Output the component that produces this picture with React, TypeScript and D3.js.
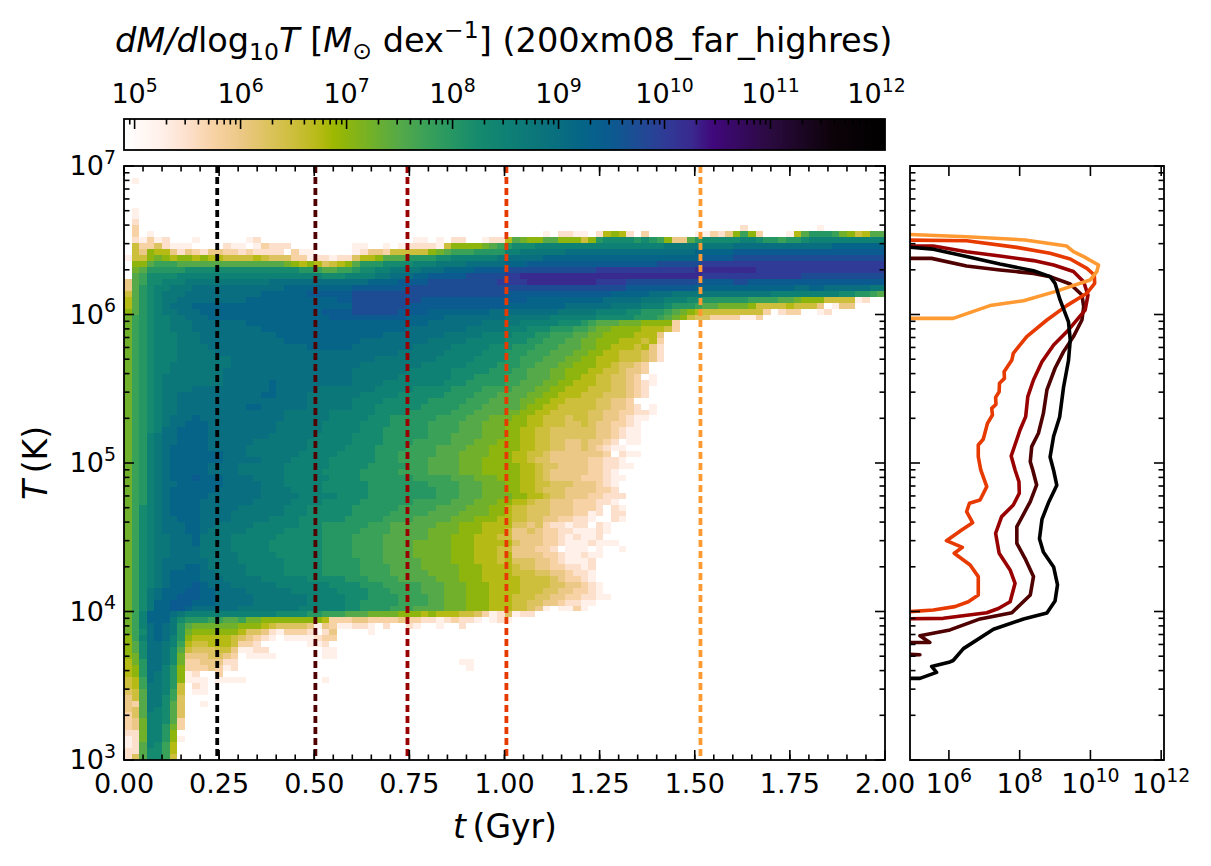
import React from "react";
import * as d3 from "d3";

const FONT = "'DejaVu Sans', sans-serif";

// Heat map: 100 rows (10^7 K at the top, 0.04 dex each) by 100 columns (0.02 Gyr each).
// One character per cell: '.' is empty, otherwise log10(dM/dlogT) = 5.25 + 0.25 * index in levelKey.
const levelKey = "0123456789abcdefghijk";
const cellRows: string[] = [
  "", "", ".0", "", "", "", "", ".0", ".0", ".1",
  ".2 ........ .......... .......... .......... .......... .......... .......... .......... .1........ .0",
  ".2.0...... .......... .......... .......... .......... .....0.110 0.16761.2. .....00213 7a72...069 bbba875699",
  ".10201...0 ......01.. .......... ........00 .0.11..011 6987799777 57bccccbcb a7339bcccc cddcbbabbc dddddddddd",
  ".52241000. ...100.021 11........ 00..0.0111 105777789a bcccdddddd dddddddddd deeeeeeeee ffffffffff fffggggggg",
  ".537663132 1332212111 1.200..... 0133255555 789aaabbbb ddeeeeeeff ffffffffff fffffggggg hhhhhhhhhh hhhhhhhhhh",
  "0557876776 7665555654 4422011011 4667999bbb bccdddddde fffffggggg gggggggggg gggggghhhh iiiiiiiiii iiiiiiiiii",
  ".779aaa999 9999999999 9876764567 9bbbccccdd deeeefffff ggghhhhhhh hhhhhhhhhh iiiiiijjjj jjjjjjjjjj jjjjjjjjjj",
  ".89bbbbbcc cccccccccc cccbba99aa bccddeeeef ffgggghhhh iiiiiiiiii iijjjjjjjj jjjjjkkkkk kkkjjjjjjj jjjjjjjjjj",
  ".9accccddd dddddddddd ddddddcccd dddeefffgg hhhhhiiiii jjkkkkkkkk kkkkkkkkkk kkkkkkjjjj jjjjjjjjji iiiiiiiiii",
  "39accdddee eeeeeeeeef ffffffffff ffgggghhhh iiiiiiiiij jjjkkkkkkk kkjjjjiiii iiiiiihhhh iihhhhhhhh hhhhhhhhhh",
  "39bcddeeef ffffffffff fggggggggg hhhhhhhiii iiiiiiiiii iiiiiiiiii iiiiiihhhh hhhhhggggg ggggggggff ggffffffee",
  "59bcdeeeff ffffffffgg gggghhhhhh iiiiiiiiii iiiiiiiiii hhhhhhhhhh hhhhgggggf ffeeeeeeee eeeeeddddd ddddccbba9",
  "69bcdeefff ffffffgggg gggggggghh iiiiiiiiih hhhhhhhhhh hhhggggggg gggfffffee edddccbbbb bbaaaa9987 77555501..",
  "69bcdefffg gggggggggg gggggggggg iiiiiiihhh hhhhhhhhhh ggggggggff ffffeeeedd dcbbba9988 8875555655 53.033....",
  "79bcdeefff gggggggggg gggggghhhh iiiiiihhhh ggggggggff fffffffeee eeddddccbb ba98765555 55552.122. .01.......",
  "8abcddeeff fggggggggg ggggggghhh hhhhhhhggg ggffffffff eeeeeedddd ddcccccbbb a987544222 2002......",
  "8abcddeeef ffffffgggg gggggggggg gggggggggg fffffffeee eedddddccc ba99988877 772.......",
  "8abcddeeef ffffffffgg gggggggggg gggggggfff fffffeeeee dddcccbbba a988777766 652.......",
  "8abcdddeee ffffffffff gggggggggg ggggffffff ffeeeeeddd dcccbbaaa9 9887777666 3.........",
  "8abcdddeee ffffffffff fggggggggg gfffffffff eeeeeddddd cccbbaaa99 8877766656 2.........",
  "8abcdddeee efffffffff ffffgggggg ffffffffee eeedddddcc cbbbaaa999 8877666563 1.........",
  "8abcdddeee eeffffffff ffffffffff ffffffeeee eedddddccc bbbaaa9998 8776655543 1.........",
  "8abcdddeee eeeeffffff ffffffffff fffeeeeeee edddddcccc bbaaa99988 7766655543 1.........",
  "8abcddeeee eeeeffffff ffffffffff feeeeeeeed dddddccccb bbaa999887 776654432.",
  "8abcddeeee eeefffffff ffffffffff eeeeeeeddd dddcccccbb baa9998877 766554332.",
  "8abcdeeeee eeefffffff ffffffffff eeeeeedddd dddcccbbbb aaa9998877 66554432.0",
  "8abcdeeeee eeeffffffg ffffffffff eeeedddddd ddcccbbbbb aa99988776 6655443210",
  "8abcdeeeef fffffffffg fffffeeeee eeedddddcc cccbbbbaaa a999887766 655544321.",
  "8abcdeefff ffffffffgg ffffeeeeee edddddcccc ccbbbbaaa9 9998877666 555444321.",
  "8abcdeefff ffffffffff ffffeeeeee ddddcccccc bbbbbaaa99 9988776655 5544332...",
  "8abcdeefff ffffffggff ffffeeeeee dddccccccb bbbbaaa999 9987766555 55443321.0",
  "8abcdeefff ffffffffff feeeeeeddd dddccccbbb bbbaaa9999 8877665555 5443322110",
  "8abcdefffg ffffffffff feeeeeeddd ddcccbbbbb baaaa99988 8776655545 544332100.",
  "8abcdeffgg gfffffffff eeeeeedddd dccccbbbbb aaaa999888 7776655544 54332210..",
  "8abcdffggg gfffffffff eeeeeedddd dcccbbbbbb aaaa999888 7766554444 44332100..",
  "8abdeffggg gffffffffe eeeeeddddd ccccbbbbbb aaa9999888 7766554444 44332100..",
  "8abdeffggg gffffffeee eeeedddddd ccccbbbbaa aaa9998887 7766554433 43321.00..",
  "8abdefgggg gfffffeeee eeeedddddc cccbbbbaaa a999988877 7766554433 432100....",
  "8abdefgggg gggfffeeee eeedddddcc cccbbbaaaa a999888877 7665543333 3332.100..",
  "8abdefgggg gggfffffee eedddddccc cccbbbaaaa 9999888777 7665443333 322110....",
  "8abdefgggg gffffeeeee eddddddccc ccbbbbbaaa 9999888777 7766544333 3221100...",
  "8abdefgggg gffffeeeee edddddcccc cbbbbbaaaa 9999888777 7766543333 32210.....",
  "8abdefgggh gggffffeee eddddddccc cbbbbbbbaa aaa9998887 7766543333 222100....",
  "8abdeffggg gggfffffee edddddcccc ccbbbbbbbb aaaa999888 7766554443 33210.....",
  "8abdefgggg ggffffffee eeddddcccc ccbbbbbbbb baaa999888 7766544433 33221.....",
  "8abdefgggg gfffffffee eeedddddcc ccbbbbbbbb baaa999888 8776654433 322111....",
  "8abdefgggg fffffffeee eeddddcccc cbbbbbbbaa aaa9998887 7665443332 22110.....",
  "8acdefgggg fffffeeeee edddcccccc bbbbbbaaaa a999988877 6554443332 221.10....",
  "8acdefgggg ffffeeeeee edddcccccc bbbbbaaaaa 9999888877 6554443332 201.11....",
  "8acdeffggg ffffeeeeed dddccccccb bbbbaaaa99 9998887776 6554433221 10..10....",
  "8acdefffgg ffeeeeeddd dddcccbbbb bbaaa99999 9888777666 6443421101 1.10......",
  "8acdefffgg feeeeedddd dcccccbbbb baaaa99999 8888777666 5334322110 0010......",
  "8acdeefffg eeeedddddd ccccccbbbb aaaa999999 8887776665 5333322101 001.......",
  "8acdeefffg eeeedddddc ccccccbbbb aaaa999988 8887776666 6433322100 01000.....",
  "8acdeeffff eeeedddddc ccccccbbbb aaaa999988 8887776665 5333221.00 0.0..0....",
  "8acdeeffff eeeeeddddd ccccccbbbb aaaa999988 8887776665 6333322100 100.......",
  "8acdefffff feeeeddddd dcccccbbbb baaa999998 8887776665 6444332100 01........",
  "8acdefffgg feeeeedddd dcccccbbbb baaaa99998 8888777666 6544332211 01........",
  "8acdefgggg ffeeeedddd dcccccbbbb baaaa99999 8888777666 6555443321 10........",
  "8acdefgggg fffeeeeedd ddddcccccb bbaaaa9999 9888777666 6655554322 10........",
  "8acdefgggh gfffeeeeee dddddddccc cbbbaaaaa9 9988877766 6655554433 210.......",
  "8acefggghh ggffffeeee eeddddddcc ccbbbaaaa9 9988877766 6655544332 210.......",
  "8acefgghhh ggfffffeee eeeedddddc ccbbbbaaaa 9988877766 6555443322 1100......",
  "8acegghhhg ggfffffeee eeeedddddc cbbbbbaaaa 9988877766 6554433211 00........",
  "8acegghhgf fffffeeeee eeeddddddc cbbbbaaa99 9988877766 655430.002 0.........",
  "8adgggfedd dddddddddd ccccbbaaa9 9988887776 7666554201 4011......",
  "8adgggecbb baa99a8877 7777776222 3322223221 1012110.01 0.........",
  "8adfgfeb98 8888877765 4444303200 110.1..10. .0..1.....",
  "8acfgfeb87 7777764431 02221.13.. ..0.......",
  "7adfgfdb76 6666543210 .0000122..",
  "79cffeda65 56665221.. ....001...",
  "79cffec954 445530011. ......00..",
  "78cffec833 34432.0000 ......00..",
  "68bffec822 33311..... .......... .......... ....00....",
  "67bffdb722 23201..... .......... .......... .....0....",
  "67bfedb701 ..2.......",
  "56afedb700 0.0000.... ......0...",
  "56aeedb5.1 0.........",
  "459eeda5.0 0.........",
  "359eeca4",
  "329eec94.. 0.........",
  "349edc94",
  "249ddc94",
  "238ddc92",
  "238ddb82",
  "118ddb7.",
  "018ddb70",
  "019dca6",
  "119cca6",
  "149cca5",
];

// Colour map stops
const cmapLog = [4.9, 5.25, 5.5, 5.75, 6, 6.25, 6.5, 6.75, 6.88, 7.25, 7.5, 7.75, 8, 8.25, 8.5, 8.75, 9, 9.25, 9.5, 9.75, 10, 10.25, 10.45, 11, 11.6, 12.08];
const cmapColors = ["#ffffff", "#fff0ea", "#fde0cc", "#f7d2a4", "#ecc886", "#ddc35f", "#cdbe3c", "#b5ba14", "#9db800", "#70b02a", "#55a948", "#3aa158", "#269663", "#158a6e", "#0f8174", "#0c7779", "#086e80", "#056488", "#0b5a90", "#1e4c94", "#2f3b96", "#392a8f", "#40087c", "#2a0a3f", "#0c0208", "#000000"];

// Side-panel slices: log10 T and log10 dM/dlogT
const sliceTimes = [0.245, 0.503, 0.745, 1.005, 1.515];
const sliceColors = ["#000000", "#4f0000", "#990000", "#e63a00", "#ff9a33"];
const logT025 = [6.46, 6.44, 6.39, 6.34, 6.295, 6.255, 6.21, 6.1, 5.95, 5.83, 5.69, 5.51, 5.31, 5.18, 5.04, 4.95, 4.85, 4.73, 4.62, 4.49, 4.4, 4.3, 4.18, 4.07, 3.99, 3.95, 3.88, 3.75, 3.67, 3.66, 3.63, 3.59, 3.55, 3.55];
const logM025 = [4.5, 5.56, 6.5, 7.44, 8.39, 8.86, 9.0, 9.14, 9.38, 9.43, 9.38, 9.24, 9.13, 8.96, 8.86, 8.96, 9.05, 8.81, 8.63, 8.56, 8.67, 8.96, 9.07, 9.0, 8.77, 8.11, 7.26, 6.41, 6.12, 6.03, 5.51, 5.65, 5.18, 4.5];
const logT050 = [6.378, 6.378, 6.327, 6.3, 6.277, 6.255, 6.205, 6.131, 6.053, 5.963, 5.851, 5.75, 5.638, 5.492, 5.334, 5.2, 5.11, 5.009, 4.953, 4.852, 4.74, 4.571, 4.459, 4.358, 4.235, 4.111, 3.992, 3.95, 3.876, 3.837, 3.792, 3.79, 3.714, 3.709, 3.705];
const logM050 = [4.5, 5.51, 6.5, 7.44, 8.39, 8.86, 9.43, 9.76, 9.81, 9.76, 9.52, 9.24, 9.0, 8.77, 8.67, 8.53, 8.34, 8.3, 8.37, 8.48, 8.3, 7.92, 7.92, 8.15, 8.39, 8.3, 7.78, 6.88, 6.03, 5.18, 5.46, 4.5, 4.5, 5.18, 4.5];
const logT075 = [6.461, 6.461, 6.423, 6.394, 6.363, 6.333, 6.289, 6.221, 6.131, 6.03, 5.896, 5.795, 5.682, 5.559, 5.447, 5.312, 5.222, 5.047, 4.953, 4.874, 4.796, 4.717, 4.639, 4.527, 4.392, 4.28, 4.19, 4.066, 4.02, 3.992, 3.954, 3.95];
const logM075 = [4.5, 5.56, 6.5, 7.44, 8.39, 8.96, 9.52, 9.81, 9.93, 9.85, 9.38, 8.96, 8.63, 8.39, 8.23, 8.17, 8.01, 7.76, 7.87, 7.98, 7.99, 7.82, 7.49, 7.32, 7.42, 7.73, 7.87, 7.73, 7.4, 7.07, 5.84, 4.5];
const logT100 = [6.502, 6.497, 6.452, 6.412, 6.374, 6.311, 6.266, 6.21, 6.143, 6.06, 5.963, 5.851, 5.739, 5.694, 5.615, 5.57, 5.537, 5.48, 5.442, 5.395, 5.368, 5.323, 5.267, 5.16, 5.121, 5.043, 4.953, 4.841, 4.751, 4.729, 4.672, 4.598, 4.549, 4.477, 4.432, 4.392, 4.313, 4.235, 4.111, 4.066, 4.033, 4.01, 3.992];
const logM100 = [4.5, 6.5, 7.92, 8.86, 9.43, 9.9, 10.11, 10.12, 9.9, 9.33, 8.77, 8.2, 7.82, 7.78, 7.56, 7.57, 7.43, 7.42, 7.32, 7.33, 7.21, 7.23, 7.09, 6.97, 6.83, 6.83, 6.9, 7.07, 6.88, 6.58, 6.5, 6.67, 6.36, 5.93, 6.38, 6.15, 6.6, 6.83, 6.83, 6.55, 6.17, 5.56, 4.5];
const logT150 = [6.542, 6.524, 6.502, 6.461, 6.423, 6.39, 6.333, 6.289, 6.232, 6.154, 6.093, 6.06, 5.974, 5.974];
const logM150 = [4.5, 6.5, 8.15, 9.33, 9.52, 9.81, 10.23, 10.18, 9.99, 9.0, 8.11, 7.16, 6.12, 4.5];
const sliceLogT = [logT025, logT050, logT075, logT100, logT150];
const sliceLogM = [logM025, logM050, logM075, logM100, logM150];

const timeTicks = [0, 0.25, 0.5, 0.75, 1, 1.25, 1.5, 1.75, 2];
const timeMinorTicks = d3.range(0, 41).map((i) => i * 0.05);
const tempExponents = [3, 4, 5, 6, 7];
const cbarExponents = [5, 6, 7, 8, 9, 10, 11, 12];
const sideExponents = [6, 8, 10, 12];

const main = { l: 124, r: 885, t: 166, b: 760 };
const side = { l: 910, r: 1164, t: 166, b: 760 };
const cbar = { l: 124, r: 885, t: 119, b: 150 };
const MAJOR = 10, MINOR = 5.5, TW = 1.6, SPINE = 1.8;
const INK = "#000";
const TICK_SIZE = 27;
const LABEL_SIZE = 33;
const TITLE_SIZE = 33.6;

const LOG_MIN = 4.9, LOG_MAX = 12.08;

const xTime = d3.scaleLinear().domain([0, 2]).range([main.l, main.r]);
const yTemp = d3.scaleLog().domain([1e3, 1e7]).range([main.b, main.t]);
const xCbar = d3.scaleLog().domain([10 ** LOG_MIN, 10 ** LOG_MAX]).range([cbar.l, cbar.r]);
const xSide = d3.scaleLog().domain([10 ** LOG_MIN, 10 ** LOG_MAX]).range([side.l, side.r]);
const colorOf = d3.scaleLinear<string>().domain(cmapLog).range(cmapColors).interpolate(d3.interpolateRgb).clamp(true);

const minorLog = (lo: number, hi: number) => {
  const out: number[] = [];
  for (let e = lo; e <= hi; e++) for (let m = 2; m < 10; m++) out.push(m * 10 ** e);
  return out;
};

const Pow = ({ x, y, exp, anchor = "middle", size = TICK_SIZE }: any) => (
  <text x={x} y={y} textAnchor={anchor} fontSize={size} fontFamily={FONT} fill={INK}>
    10<tspan dy={-size * 0.42} fontSize={size * 0.7}>{exp}</tspan>
  </text>
);

const line = (x1: number, y1: number, x2: number, y2: number, key: string, w = TW) => (
  <line key={key} x1={x1} y1={y1} x2={x2} y2={y2} stroke={INK} strokeWidth={w} />
);

const YTicks = ({ l, r }: { l: number; r: number }) => (
  <g>
    {tempExponents.map((e) => (
      <g key={e}>
        {line(l, yTemp(10 ** e), l + MAJOR, yTemp(10 ** e), "a")}
        {line(r, yTemp(10 ** e), r - MAJOR, yTemp(10 ** e), "b")}
      </g>
    ))}
    {minorLog(3, 6).map((v) => (
      <g key={v}>
        {line(l, yTemp(v), l + MINOR, yTemp(v), "a")}
        {line(r, yTemp(v), r - MINOR, yTemp(v), "b")}
      </g>
    ))}
  </g>
);

export default function App() {
  const cells: React.ReactNode[] = [];
  cellRows.forEach((raw, r) => {
    const row = raw.replace(/ /g, "");
    for (let c = 0; c < row.length; c++) {
      const idx = levelKey.indexOf(row[c]);
      if (idx < 0) continue;
      const x0 = Math.round(xTime(c * 0.02));
      const x1 = Math.round(xTime((c + 1) * 0.02));
      const y0 = Math.round(yTemp(10 ** (7 - r * 0.04)));
      const y1 = Math.round(yTemp(10 ** (7 - (r + 1) * 0.04)));
      cells.push(<rect key={`${r}-${c}`} x={x0} y={y0} width={x1 - x0} height={y1 - y0} fill={colorOf(5.25 + 0.25 * idx)} />);
    }
  });

  const barPixels = d3.range(cbar.l, cbar.r);
  const sliceLine = d3.line<[number, number]>().x((d) => xSide(10 ** d[1])).y((d) => yTemp(10 ** d[0]));
  const size = { fontFamily: FONT, fill: INK };
  const sub = TITLE_SIZE * 0.7;

  return (
    <svg width={1211} height={866} style={{ position: "absolute", left: 0, top: 0, background: "#fff" }}>
      <defs>
        <clipPath id="sideClip"><rect x={side.l} y={side.t} width={side.r - side.l} height={side.b - side.t} /></clipPath>
        <clipPath id="mainClip"><rect x={main.l} y={main.t} width={main.r - main.l} height={main.b - main.t} /></clipPath>
      </defs>

      {/* Title */}
      <text x={115} y={52} fontSize={TITLE_SIZE} {...size}>
        <tspan fontStyle="italic">dM/d</tspan>log<tspan dy={8} fontSize={sub}>10</tspan>
        <tspan dy={-8} fontStyle="italic">T</tspan> [<tspan fontStyle="italic">M</tspan>
        <tspan dy={7} fontSize={sub}>{"\u2299"}</tspan>
        <tspan dy={-7}> dex</tspan>
        <tspan dy={-14} fontSize={sub}>{"\u22121"}</tspan>
        <tspan dy={14}>] (200xm08_far_highres)</tspan>
      </text>

      {/* Colour bar */}
      <g shapeRendering="crispEdges">
        {barPixels.map((px) => (
          <rect key={px} x={px} y={cbar.t} width={1.2} height={cbar.b - cbar.t} fill={colorOf(Math.log10(xCbar.invert(px + 0.5)))} />
        ))}
      </g>
      {cbarExponents.map((e) => (
        <g key={e}>
          {line(xCbar(10 ** e), cbar.t, xCbar(10 ** e), cbar.t + MAJOR, "t")}
          <Pow x={xCbar(10 ** e)} y={103} exp={e} />
        </g>
      ))}
      {[9e4, ...minorLog(5, 11)].map((v) => line(xCbar(v), cbar.t, xCbar(v), cbar.t + MINOR, `cm${v}`))}
      <rect x={cbar.l} y={cbar.t} width={cbar.r - cbar.l} height={cbar.b - cbar.t} fill="none" stroke={INK} strokeWidth={SPINE} />

      {/* Heat map */}
      <g clipPath="url(#mainClip)" shapeRendering="crispEdges">{cells}</g>
      {sliceTimes.map((t, i) => (
        <line key={t} x1={xTime(t)} x2={xTime(t)} y1={main.t} y2={main.b} stroke={sliceColors[i]} strokeWidth={3.8} strokeDasharray="7 4" />
      ))}
      <rect x={main.l} y={main.t} width={main.r - main.l} height={main.b - main.t} fill="none" stroke={INK} strokeWidth={SPINE} />
      <YTicks l={main.l} r={main.r} />
      {timeTicks.map((t) => (
        <g key={t}>
          {line(xTime(t), main.b, xTime(t), main.b - MAJOR, "a")}
          {line(xTime(t), main.t, xTime(t), main.t + MAJOR, "b")}
          <text x={xTime(t)} y={793} textAnchor="middle" fontSize={TICK_SIZE} {...size}>{t.toFixed(2)}</text>
        </g>
      ))}
      {timeMinorTicks.map((t) => (
        <g key={t}>
          {line(xTime(t), main.b, xTime(t), main.b - MINOR, "a")}
          {line(xTime(t), main.t, xTime(t), main.t + MINOR, "b")}
        </g>
      ))}
      {tempExponents.map((e) => (
        <Pow key={e} x={116} y={yTemp(10 ** e) + 9} exp={e} anchor="end" />
      ))}
      <text x={505} y={838} textAnchor="middle" fontSize={LABEL_SIZE} {...size}>
        <tspan fontStyle="italic">t</tspan>{"\u2009"}(Gyr)
      </text>
      <text transform={`translate(47,463) rotate(-90)`} textAnchor="middle" fontSize={LABEL_SIZE} {...size}>
        <tspan fontStyle="italic">T</tspan>{"\u2009"}(K)
      </text>

      {/* Side panel */}
      <g clipPath="url(#sideClip)" fill="none" strokeWidth={3.6} strokeLinejoin="round">
        {[1, 2, 3, 4, 0].map((i) => (
          <path key={i} d={sliceLine(sliceLogT[i].map((T, j) => [T, sliceLogM[i][j]] as [number, number])) || ""} stroke={sliceColors[i]} />
        ))}
      </g>
      <rect x={side.l} y={side.t} width={side.r - side.l} height={side.b - side.t} fill="none" stroke={INK} strokeWidth={SPINE} />
      <YTicks l={side.l} r={side.r} />
      {sideExponents.map((e) => (
        <g key={e}>
          {line(xSide(10 ** e), side.b, xSide(10 ** e), side.b - MAJOR, "a")}
          {line(xSide(10 ** e), side.t, xSide(10 ** e), side.t + MAJOR, "b")}
          <Pow x={xSide(10 ** e)} y={793} exp={e} />
        </g>
      ))}
    </svg>
  );
}
